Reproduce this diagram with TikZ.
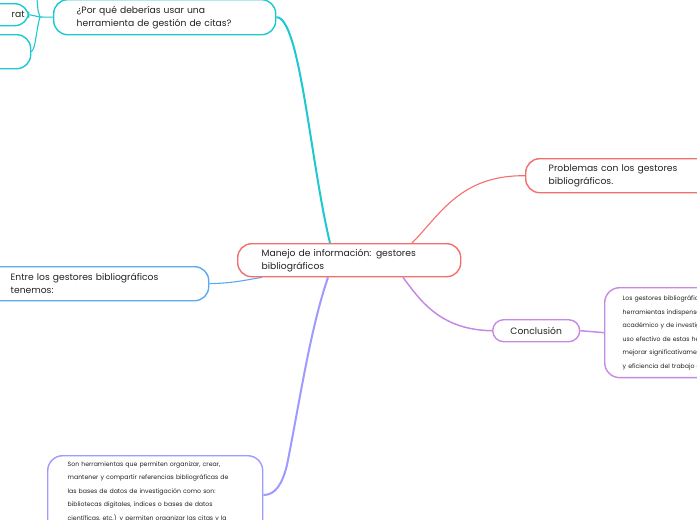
\documentclass[tikz,border=0pt]{standalone}
\usepackage{fontspec}
\setmainfont{Poppins}
\usetikzlibrary{backgrounds}
\definecolor{teal1}{HTML}{1CC8D2}
\definecolor{red1}{HTML}{F56E6E}
\definecolor{blue1}{HTML}{5AAAF0}
\definecolor{purp1}{HTML}{C68AE6}
\definecolor{lav1}{HTML}{9E9AFF}
\definecolor{txt}{HTML}{222222}
\tikzset{
  box/.style={draw, rounded corners=14pt, line width=1.4pt, fill=white, text=txt,
    anchor=north west, align=left, font=\fontsize{9.2}{13}\selectfont},
  smallbox/.style={box, rounded corners=15pt, font=\fontsize{6.2}{13.5}\selectfont},
  conn/.style={line width=1.1pt},
}
\begin{document}
\begin{tikzpicture}[x=1pt,y=-1pt]
\useasboundingbox (0,0) rectangle (697,520);
\clip (0,0) rectangle (697,520);

\coordinate (jn) at (40,17);
\coordinate (upend) at (37,-2);

% central
\node[box, draw=red1, minimum height=33pt, text width=175pt, inner xsep=24pt, inner ysep=0pt] (c) at (237,243)
  {Manejo de información: gestores\\bibliográficos};

% top teal
\node[box, draw=teal1, minimum height=35pt, text width=176pt, inner xsep=23pt, inner ysep=0pt] (q) at (53,-1)
  {¿Por qué deberías usar una\\herramienta de gestión de citas?};

% truncated top-left nodes
\node[box, draw=teal1, minimum height=22pt, minimum width=70pt, inner xsep=4pt, inner ysep=0pt, align=right, text width=62pt] (r) at (-42,3)
  {rat};
\node[box, draw=teal1, minimum height=34pt, minimum width=72pt, inner sep=0pt] (l) at (-42,34) {};

% problemas
\node[box, draw=red1, minimum height=34pt, text width=190pt, inner xsep=23pt, inner ysep=0pt] (p) at (525,158)
  {Problemas con los gestores\\bibliográficos.};

% entre
\node[box, draw=blue1, minimum height=34pt, text width=174pt, inner xsep=24pt, inner ysep=0pt] (e) at (-14,266)
  {Entre los gestores bibliográficos\\tenemos:};

% conclusion
\node[box, draw=purp1, minimum height=22pt, minimum width=87pt, inner sep=0pt, align=center, rounded corners=11pt] (k) at (492,319)
  {Conclusión};

% conclusion text
\node[smallbox, draw=purp1, minimum height=85pt, text width=160pt, inner xsep=18pt, inner ysep=8pt] (kt) at (604,287)
  {Los gestores bibliográficos son\\herramientas indispensables en el ámbito\\académico y de investigación. El\\uso efectivo de estas herramientas\\mejorar significativamente la calidad\\y eficiencia del trabajo académico.};

% lower lavender text
\node[smallbox, draw=lav1, text width=175pt, inner xsep=20pt, inner ysep=6pt] (s) at (47,455)
  {Son herramientas que permiten organizar, crear,\\mantener y compartir referencias bibliográficas de\\las bases de datos de investigación como son:\\bibliotecas digitales, índices o bases de datos\\científicas, etc.) y permiten organizar las citas y la\\bibliografía};

\begin{scope}[on background layer]
  % teal
  \draw[teal1, line width=2pt] (q.east) .. controls (300,17) and (310,160) .. ([xshift=93pt]c.north west);
  \draw[teal1, conn] (q.west) -- (jn);
  \draw[teal1, conn] (jn) .. controls (38,12) .. (upend);
  \draw[teal1, conn] (jn) .. controls (35,15) .. (r.east);
  \draw[teal1, conn] (jn) .. controls (36,30) and (36,48) .. (l.east);
  % red
  \draw[red1, conn] ([xshift=175pt]c.north west) .. controls (440,215) and (460,175) .. (p.west);
  % blue
  \draw[blue1, conn] (e.east) .. controls (235,283) and (245,280) .. ([xshift=25pt]c.south west);
  % purple
  \draw[purp1, line width=1.5pt] ([xshift=166pt]c.south west) .. controls (420,300) and (440,330) .. (k.west);
  \draw[purp1, line width=1.5pt] (k.east) -- (kt.west);
  % lavender
  \coordinate (lv) at (287,465);
  \draw[lav1, line width=2pt] ([xshift=91pt]c.south west) .. controls (310,330) and (300,400) .. (lv)
     .. controls (282,485) and (275,495) .. ([yshift=-40pt]s.north east);
\end{scope}
\end{tikzpicture}
\end{document}
